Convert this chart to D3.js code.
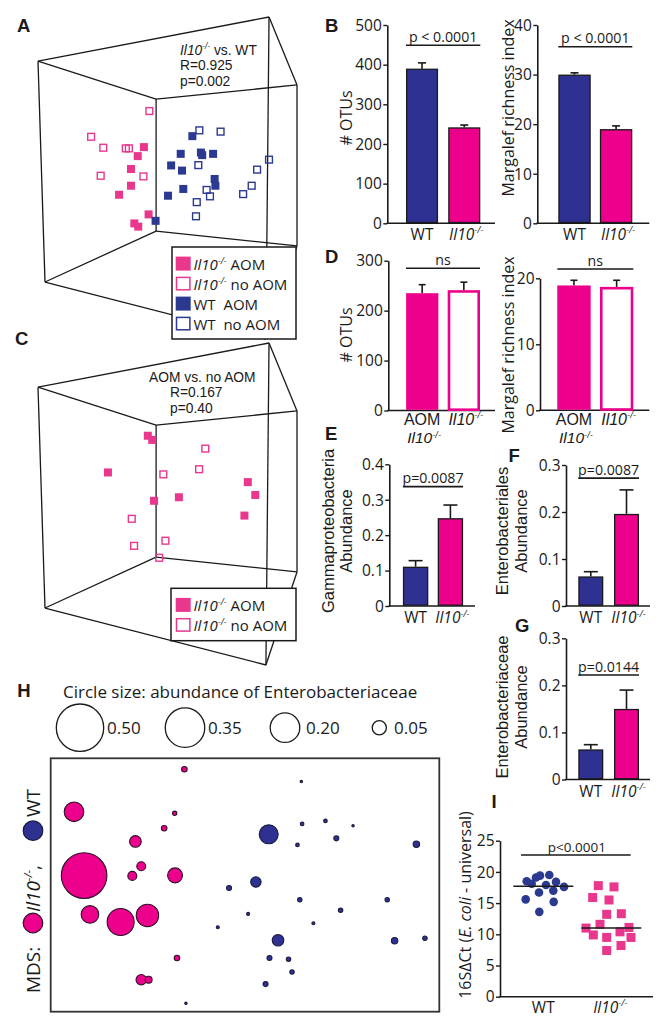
<!DOCTYPE html>
<html><head><meta charset="utf-8">
<script src="https://cdn.jsdelivr.net/npm/d3@7"></script>
<style>
body{margin:0;background:#fff;}
svg{display:block;}
text{white-space:pre;}
</style></head><body>
<svg id="fig" width="669" height="1029"></svg>
<script>
// ---------------- DATA ----------------
// Panel A / C : 3D ordination, projected coordinates (0-100 in the frame)
const aIl10AOM   = [[40.9,40.4],[38.5,43.2],[35.9,47.2],[35.9,52.4],[31.3,55.2],[42.7,61.3],[37.2,64.1],[38.7,65.1]];
const aIl10NoAOM = [[43.0,29.2],[20.5,37.2],[25.2,40.6],[33.9,40.8],[35.1,40.8],[24.2,49.3],[40.7,49.5]];
const aWTAOM     = [[59.6,37.0],[55.1,42.5],[62.9,42.1],[63.4,42.9],[67.6,42.5],[51.4,46.1],[55.6,47.7],[68.2,50.3],[68.5,52.4],[56.1,53.4],[50.2,55.5],[45.4,63.3]];
const aWTNoAOM   = [[62.3,35.2],[70.5,35.6],[61.9,46.0],[89.2,44.3],[84.6,47.4],[82.5,52.4],[79.2,55.0],[65.1,53.7],[66.4,55.7],[61.3,57.5],[61.0,61.9]];
const cIl10AOM   = [[42.4,28.8],[44.1,30.1],[27.0,40.2],[44.8,49.0],[54.4,47.9],[81.0,43.2],[83.9,47.2],[79.7,53.6]];
const cIl10NoAOM = [[64.6,32.8],[62.2,39.2],[48.4,40.8],[36.2,54.6],[37.1,63.0],[49.2,61.4],[46.8,66.7]];
// perspective frame corners (same projected units) and edges
const frameVerts = [[0,13.7],[89.2,0],[100,21.1],[45.6,25.5],[2.7,82.3],[88.0,100],[100,71.1],[45.6,66.5]];
const frameEdges = [[0,1],[1,2],[0,3],[3,2],[0,4],[1,5],[2,6],[3,7],[4,7],[7,6],[4,5],[5,6]];

// Panels B, D, E, F, G : bar charts
const bGroups = ["WT","Il10"];
const bOTUs = [390, 242],   bOTUsErr = [14.5, 5.8];
const bMarg = [30.0, 19.0], bMargErr = [0.35, 0.65];
const dGroups = ["AOM","noAOM"];
const dOTUs = [235, 241],   dOTUsErr = [17, 16];
const dMarg = [18.9, 18.7], dMargErr = [0.8, 1.0];
const eGamma = [0.111, 0.248], eGammaErr = [0.017, 0.037];
const fEntAles = [0.063, 0.196], fEntAlesErr = [0.010, 0.051];
const gEntAceae = [0.064, 0.150], gEntAceaeErr = [0.010, 0.040];
const ticksOTU500 = [0,100,200,300,400,500];
const ticksMarg40 = [0,10,20,30,40];
const ticksOTU300 = [0,100,200,300];
const ticksMarg20 = [0,10,20];
const ticksAb4 = [0,0.1,0.2,0.3,0.4];
const ticksAb3 = [0,0.1,0.2,0.3];
const pB1 = ["p < 0.0001", 449], pB2 = ["p < 0.0001", 35.6];
const pD1 = ["ns", 284.8], pD2 = ["ns", 21.4];
const pE = ["p=0.0087", 0.337], pF = ["p=0.0087", 0.272], pG = ["p=0.0144", 0.222];

// Panel H : MDS bubble plot [MDS1 (0-100), MDS2 (0-100), Enterobacteriaceae abundance]
const hIl10 = [[34.4,95.7,.009],[6.0,78.9,.09],[31.9,78.3,.006],[29.2,72.4,.009],[21.8,67.2,.034],[8.6,53.7,.46],[23.3,57.4,.021],[21.0,53.6,.021],[32.0,53.8,.054],[10.1,38.4,.073],[18.0,35.4,.166],[24.9,38.0,.116],[32.5,21.2,.009],[23.3,12.6,.0275],[25.2,12.6,.0135]];
const hWT = [[64.5,90.8,.0024],[64.7,74.1,.0045],[70.7,75.3,.0045],[77.8,73.4,.0024],[56.1,70.0,.0845],[63.5,65.8,.0045],[73.5,68.4,.0076],[94.1,66.1,.0116],[52.8,51.2,.0275],[45.9,48.8,.0076],[64.1,44.2,.0062],[86.6,44.2,.0062],[74.6,40.0,.0062],[50.8,38.6,.0034],[43.0,33.3,.0034],[67.6,34.9,.0034],[58.5,28.2,.0335],[88.5,28.0,.0116],[96.3,29.0,.0062],[56.3,21.2,.0076],[61.2,20.7,.0062],[62.1,15.7,.0062],[55.3,10.9,.0076],[34.8,3.3,.0024]];
const hLegendValues = [0.50, 0.35, 0.20, 0.05];

// Panel I : 16S dCt
const iGroups = ["WT","Il10"];
const iWT = [19.1,19.4,19.5,18.5,18.1,18.4,17.9,17.6,16.7,17.0,15.6,15.2,13.6];
const iWTJit = [-7.3,-3.3,6.0,-16.6,-11.6,12.7,2.7,20.7,-4.3,10.0,-17.6,10.4,-4.0];
const iIl10 = [17.8,17.6,15.9,15.5,13.2,13.3,11.0,11.6,11.1,10.4,9.5,9.5,9.9,8.2,7.4];
const iIl10Jit = [-10,5.7,-15.6,0.7,-1.6,13,-22.3,-8.3,20.7,11.7,-1.6,22.7,-15,12.7,-1.6];
const iMeans = [17.7, 11.0];
const ticksI = [0,5,10,15,20,25];
const pI = ["p<0.0001", 22.7];

// ---------------- STYLE ----------------
const PINK = "#ec008c", BLUE = "#2e3192", PINKPT = "#e8378d", BLUEPT = "#2b3990";
const INK = "#1a1a1a";
const FONT = "'Open Sans','Noto Sans',sans-serif";
const TIGHT = "'Liberation Sans',Arial,sans-serif";   // compact line metrics for stacked lines
const BOLD = "'Liberation Sans',Arial,sans-serif";
const svg = d3.select("#fig");

function txt(parent, x, y, size, anchor, fam){
  return parent.append("text").attr("x",x).attr("y",y).attr("font-size",size)
    .attr("font-family",fam||FONT).attr("fill",INK).attr("text-anchor",anchor||"start");
}
function il10(t, size, after, raise){
  const rs = raise===undefined ? 0.42 : raise;
  t.append("tspan").attr("font-style","italic").text("Il10");
  t.append("tspan").attr("font-style","italic").attr("font-size",size*0.6).attr("dy",-size*rs).text("-/-");
  if(after!==undefined) t.append("tspan").attr("dy",size*rs).text(after);
  return t;
}
function yLabel(parent, lines, cy, size, fam){
  lines.forEach(([s,cx])=> parent.append("text").attr("transform",`translate(${cx+size*0.33},${cy}) rotate(-90)`)
    .attr("text-anchor","middle").attr("font-size",size).attr("font-family",fam||FONT).attr("fill",INK).text(s));
}

// panel letters
[["A",17,31.7],["B",325,31.7],["C",15,345],["D",325,263.3],["E",325,440],["F",508.5,461.7],["G",515,631.7],["H",17.3,696.7],["I",491.5,808.3]]
 .forEach(([l,x,y])=> svg.append("text").attr("x",x).attr("y",y).attr("font-family",BOLD)
   .attr("font-weight","bold").attr("font-size",18.5).attr("fill",INK).text(l));

// ---------------- PANELS A & C ----------------
function ordination(top, groups, legend, annot){
  const g = svg.append("g");
  const x = d3.scaleLinear().domain([0,100]).range([38,297]);
  const y = d3.scaleLinear().domain([0,100]).range([top, top+322]);
  frameEdges.forEach(([a,b])=> g.append("line")
    .attr("x1",x(frameVerts[a][0])).attr("y1",y(frameVerts[a][1]))
    .attr("x2",x(frameVerts[b][0])).attr("y2",y(frameVerts[b][1]))
    .attr("stroke",INK).attr("stroke-width",1.3));
  groups.forEach(gr=>{
    g.selectAll(null).data(gr.data).enter().append("rect")
      .attr("x",d=>x(d[0])-(gr.open?3.4:4)).attr("y",d=>y(d[1])-(gr.open?3.4:4))
      .attr("width",gr.open?6.8:8).attr("height",gr.open?6.8:8)
      .attr("fill",gr.open?"none":gr.color).attr("stroke",gr.open?gr.color:"none").attr("stroke-width",1.4);
  });
  annot.forEach(a=>{
    const t = txt(g,a.x,a.y,13.8,"start",TIGHT);
    if(a.il10) il10(t,13.8," vs. WT"); else t.text(a.text);
  });
  const lb = legend.box;
  g.append("rect").attr("x",lb[0]).attr("y",lb[1]).attr("width",lb[2]).attr("height",lb[3])
    .attr("fill","#fff").attr("stroke",INK).attr("stroke-width",1.5);
  legend.rows.forEach((r,i)=>{
    const base = lb[1]+23+i*20;
    if(r.open) g.append("rect").attr("x",176.5).attr("y",base-12.6).attr("width",13.4).attr("height",12.4)
      .attr("fill","none").attr("stroke",r.color).attr("stroke-width",1.5);
    else g.append("rect").attr("x",175.7).attr("y",base-13.4).attr("width",15).attr("height",14).attr("fill",r.color);
    const t = txt(g,193.5,base,15);
    if(r.il10) il10(t,15,r.label); else t.text(r.label);
  });
}
ordination(17,
  [{data:aIl10NoAOM,color:PINKPT,open:true},{data:aWTNoAOM,color:BLUEPT,open:true},
   {data:aIl10AOM,color:PINKPT,open:false},{data:aWTAOM,color:BLUEPT,open:false}],
  {box:[172,247,124,92], rows:[{il10:true,label:" AOM",color:PINKPT},{il10:true,label:" no AOM",color:PINKPT,open:true},
    {label:"WT  AOM",color:BLUEPT},{label:"WT  no AOM",color:BLUEPT,open:true}]},
  [{il10:true,x:180,y:54.5},{text:"R=0.925",x:180,y:70},{text:"p=0.002",x:180,y:85.5}]);
ordination(343,
  [{data:cIl10NoAOM,color:PINKPT,open:true},{data:cIl10AOM,color:PINKPT,open:false}],
  {box:[171,588.3,125,52.4], rows:[{il10:true,label:" AOM",color:PINKPT},{il10:true,label:" no AOM",color:PINKPT,open:true}]},
  [{text:"AOM vs. no AOM",x:149,y:381.5},{text:"R=0.167",x:170,y:397},{text:"p=0.40",x:170,y:412.5}]);

// ---------------- BAR CHARTS ----------------
const solid = c=>({fill:c,stroke:INK,sw:1.3});
function barChart(o){
  const g = svg.append("g");
  const y = d3.scaleLinear().domain([0,o.max]).range([o.yB,o.yT]);
  const x = d3.scaleBand().domain(o.cats).range(o.band).paddingInner(o.pad).paddingOuter(0);
  const fmt = o.dec ? (d=> d===0?"0":d3.format(".1f")(d)) : d3.format("d");
  const ax = g.append("g").attr("transform",`translate(${o.x0},0)`)
    .call(d3.axisLeft(y).tickValues(o.ticks).tickFormat(fmt).tickSize(4).tickSizeOuter(0).tickPadding(1.5));
  ax.select(".domain").attr("stroke",INK).attr("stroke-width",1.6);
  ax.selectAll(".tick line").attr("stroke",INK).attr("stroke-width",1.4);
  ax.selectAll(".tick text").attr("font-family",FONT).attr("font-size",15.5).attr("fill",INK).attr("dy","0.34em");
  g.append("line").attr("x1",o.x0-0.8).attr("x2",o.x1).attr("y1",o.yB).attr("y2",o.yB).attr("stroke",INK).attr("stroke-width",1.6);
  o.cats.forEach((c,i)=>{
    const v=o.vals[i], e=o.errs[i], st=o.styles[i];
    const cx = x(c)+x.bandwidth()/2;
    g.append("line").attr("x1",cx).attr("x2",cx).attr("y1",y(v)).attr("y2",y(v+e)).attr("stroke",INK).attr("stroke-width",1.6);
    g.append("line").attr("x1",cx-o.cap/2).attr("x2",cx+o.cap/2).attr("y1",y(v+e)).attr("y2",y(v+e)).attr("stroke",INK).attr("stroke-width",1.6);
    const ins = st.sw/2;
    g.append("rect").attr("x",x(c)+ins).attr("y",y(v)+ins).attr("width",x.bandwidth()-2*ins)
      .attr("height",y(0)-y(v)-ins-0.8).attr("fill",st.fill).attr("stroke",st.stroke).attr("stroke-width",st.sw);
  });
  const sy = y(o.sig[1]);
  g.append("line").attr("x1",x(o.cats[0])).attr("x2",x(o.cats[1])+x.bandwidth()).attr("y1",sy).attr("y2",sy)
    .attr("stroke",INK).attr("stroke-width",1.6);
  txt(g,(x(o.cats[0])+x(o.cats[1])+x.bandwidth())/2, sy-3.5, 14.2, "middle").text(o.sig[0]);
  yLabel(g,o.ylab,o.ylabY,o.ylabSize||16,o.ylabFam);
  o.xlab(g, x);
}
function xlabWT(yb){
  return (g,x)=>{
    txt(g,x("WT")+x.bandwidth()/2,yb,15.5,"middle").text("WT");
    il10(txt(g,x("Il10")+x.bandwidth()/2+2,yb,15.5,"middle"),15.5);
  };
}
function xlabD(g,x){
  const c0 = x("AOM")+x.bandwidth()/2, c1 = x("noAOM")+x.bandwidth()/2;
  txt(g,c0,424.5,16,"middle",TIGHT).text("AOM");
  il10(txt(g,c0+2,443,15.5,"middle",TIGHT),15.5,undefined,0.3);
  il10(txt(g,c1+2,424.5,16,"middle",TIGHT),16);
}
const dStyles = [{fill:PINK,stroke:PINK,sw:0.5},{fill:"#fff",stroke:PINK,sw:2.6}];
barChart({x0:387.3,x1:495,yB:223.3,yT:25,max:500,ticks:ticksOTU500,band:[406,480.3],pad:.24,cats:bGroups,
  vals:bOTUs,errs:bOTUsErr,styles:[solid(BLUE),solid(PINK)],cap:8,sig:pB1,ylab:[["# OTUs",346.7]],ylabY:118,xlab:xlabWT(240)});
barChart({x0:537.3,x1:649.3,yB:223.3,yT:25,max:40,ticks:ticksMarg40,band:[558.3,632.3],pad:.22,cats:bGroups,
  vals:bMarg,errs:bMargErr,styles:[solid(BLUE),solid(PINK)],cap:8,sig:pB2,ylab:[["Margalef richness index",508.3]],ylabY:108,xlab:xlabWT(240)});
barChart({x0:388.3,x1:495,yB:410.5,yT:260.7,max:300,ticks:ticksOTU300,band:[406,480],pad:.225,cats:dGroups,
  vals:dOTUs,errs:dOTUsErr,styles:dStyles,cap:7,sig:pD1,ylab:[["# OTUs",346.7]],ylabY:335,xlab:xlabD});
barChart({x0:540,x1:649.3,yB:410.3,yT:278.3,max:20,ticks:ticksMarg20,band:[557.3,633.3],pad:.22,cats:dGroups,
  vals:dMarg,errs:dMargErr,styles:dStyles,cap:7,sig:pD2,ylab:[["Margalef richness index",508.3]],ylabY:345,xlab:xlabD});
barChart({x0:389.3,x1:475,yB:606,yT:464.3,max:0.4,dec:true,ticks:ticksAb4,band:[402.9,463.1],pad:.27,cats:bGroups,
  vals:eGamma,errs:eGammaErr,styles:[solid(BLUE),solid(PINK)],cap:14,sig:pE,ylabSize:16.5,ylabFam:TIGHT,
  ylab:[["Gammaproteobacteria",328.2],["Abundance",347]],ylabY:531,xlab:xlabWT(623.3)});
barChart({x0:566,x1:650,yB:606,yT:465,max:0.3,dec:true,ticks:ticksAb3,band:[578.3,639],pad:.3,cats:bGroups,
  vals:fEntAles,errs:fEntAlesErr,styles:[solid(BLUE),solid(PINK)],cap:14,sig:pF,ylabSize:16.5,ylabFam:TIGHT,
  ylab:[["Enterobacteriales",502.5],["Abundance",521.7]],ylabY:531,xlab:xlabWT(623.3)});
barChart({x0:566,x1:650,yB:779.5,yT:638.3,max:0.3,dec:true,ticks:ticksAb3,band:[578.3,639],pad:.3,cats:bGroups,
  vals:gEntAceae,errs:gEntAceaeErr,styles:[solid(BLUE),solid(PINK)],cap:14,sig:pG,ylabSize:16.5,ylabFam:TIGHT,
  ylab:[["Enterobacteriaceae",502.5],["Abundance",521.7]],ylabY:707,xlab:xlabWT(796.5)});

// ---------------- PANEL H ----------------
(function(){
  const g = svg.append("g");
  const x = d3.scaleLinear().domain([0,100]).range([50.7,439.3]);
  const y = d3.scaleLinear().domain([0,100]).range([1011.7,758.3]);
  const r = d3.scaleSqrt().domain([0,0.5]).range([0,24.3]);
  txt(g,63,698,17).text("Circle size: abundance of Enterobacteriaceae");
  const layout = [[80,107],[185,208],[285,306],[379.3,394]];
  hLegendValues.forEach((v,i)=>{
    g.append("circle").attr("cx",layout[i][0]).attr("cy",727.7).attr("r",r(v)-0.6)
      .attr("fill","#fff").attr("stroke",INK).attr("stroke-width",1.3);
    txt(g,layout[i][1],733.8,17).text(d3.format(".2f")(v));
  });
  g.append("rect").attr("x",50.7).attr("y",758.3).attr("width",388.6).attr("height",253.4)
    .attr("fill","none").attr("stroke","#333").attr("stroke-width",1.8);
  const draw = (data,fill,stroke)=> g.selectAll(null).data(data).enter().append("circle")
    .attr("cx",d=>x(d[0])).attr("cy",d=>y(d[1])).attr("r",d=>Math.max(1.2,r(d[2])-0.5))
    .attr("fill",fill).attr("stroke",stroke).attr("stroke-width",1.1);
  draw(hWT,BLUE,"#1b1b3d");
  draw(hIl10,PINK,"#2d1028");
  const lg = g.append("g").attr("transform","translate(33,0) rotate(-90)");
  txt(lg,-993,6.8,19).text("MDS:");
  lg.append("circle").attr("cx",-923).attr("cy",0).attr("r",9.8).attr("fill",PINK).attr("stroke","#2d1028").attr("stroke-width",1.2);
  il10(txt(lg,-912,6.8,19),19,",");
  lg.append("circle").attr("cx",-830.7).attr("cy",0).attr("r",9.8).attr("fill",BLUE).attr("stroke","#1b1b3d").attr("stroke-width",1.2);
  txt(lg,-817,6.8,19).text("WT");
})();

// ---------------- PANEL I ----------------
(function(){
  const g = svg.append("g");
  const y = d3.scaleLinear().domain([0,25]).range([996.7,840.7]);
  const x = d3.scaleBand().domain(iGroups).range([510.8,640.8]);
  const ax = g.append("g").attr("transform","translate(500,0)")
    .call(d3.axisLeft(y).tickValues(ticksI).tickSize(4).tickSizeOuter(0).tickPadding(1.5));
  ax.select(".domain").attr("stroke",INK).attr("stroke-width",1.6);
  ax.selectAll(".tick line").attr("stroke",INK).attr("stroke-width",1.4);
  ax.selectAll(".tick text").attr("font-family",FONT).attr("font-size",15.5).attr("fill",INK).attr("dy","0.34em");
  g.append("line").attr("x1",499.2).attr("x2",653).attr("y1",996.7).attr("y2",996.7).attr("stroke",INK).attr("stroke-width",1.6);
  const cW = x("WT")+x.bandwidth()/2, cI = x("Il10")+x.bandwidth()/2;
  g.selectAll(null).data(iWT).enter().append("circle")
    .attr("cx",(d,i)=>cW+iWTJit[i]).attr("cy",d=>y(d)).attr("r",4.3).attr("fill",BLUEPT);
  g.selectAll(null).data(iIl10).enter().append("rect")
    .attr("x",(d,i)=>cI+iIl10Jit[i]-4.5).attr("y",d=>y(d)-4.5).attr("width",9).attr("height",9).attr("fill",PINKPT);
  [[cW,iMeans[0]],[cI+3,iMeans[1]]].forEach(([c,m])=> g.append("line").attr("x1",c-30).attr("x2",c+30)
    .attr("y1",y(m)).attr("y2",y(m)).attr("stroke",INK).attr("stroke-width",1.6));
  g.append("line").attr("x1",cW-22.3).attr("x2",cI+22.4).attr("y1",y(pI[1])).attr("y2",y(pI[1])).attr("stroke",INK).attr("stroke-width",1.6);
  txt(g,(cW+cI)/2+1,y(pI[1])-3.5,13.5,"middle").text(pI[0]);
  txt(g,cW,1013,15.5,"middle").text("WT");
  il10(txt(g,cI+2,1013,15.5,"middle"),15.5);
  const t = g.append("text").attr("transform","translate(470.5,905) rotate(-90)").attr("text-anchor","middle")
    .attr("font-size",16).attr("font-family",FONT).attr("fill",INK);
  t.append("tspan").text("16SΔCt (");
  t.append("tspan").attr("font-style","italic").text("E. coli");
  t.append("tspan").text(" - universal)");
})();
</script>
</body></html>
